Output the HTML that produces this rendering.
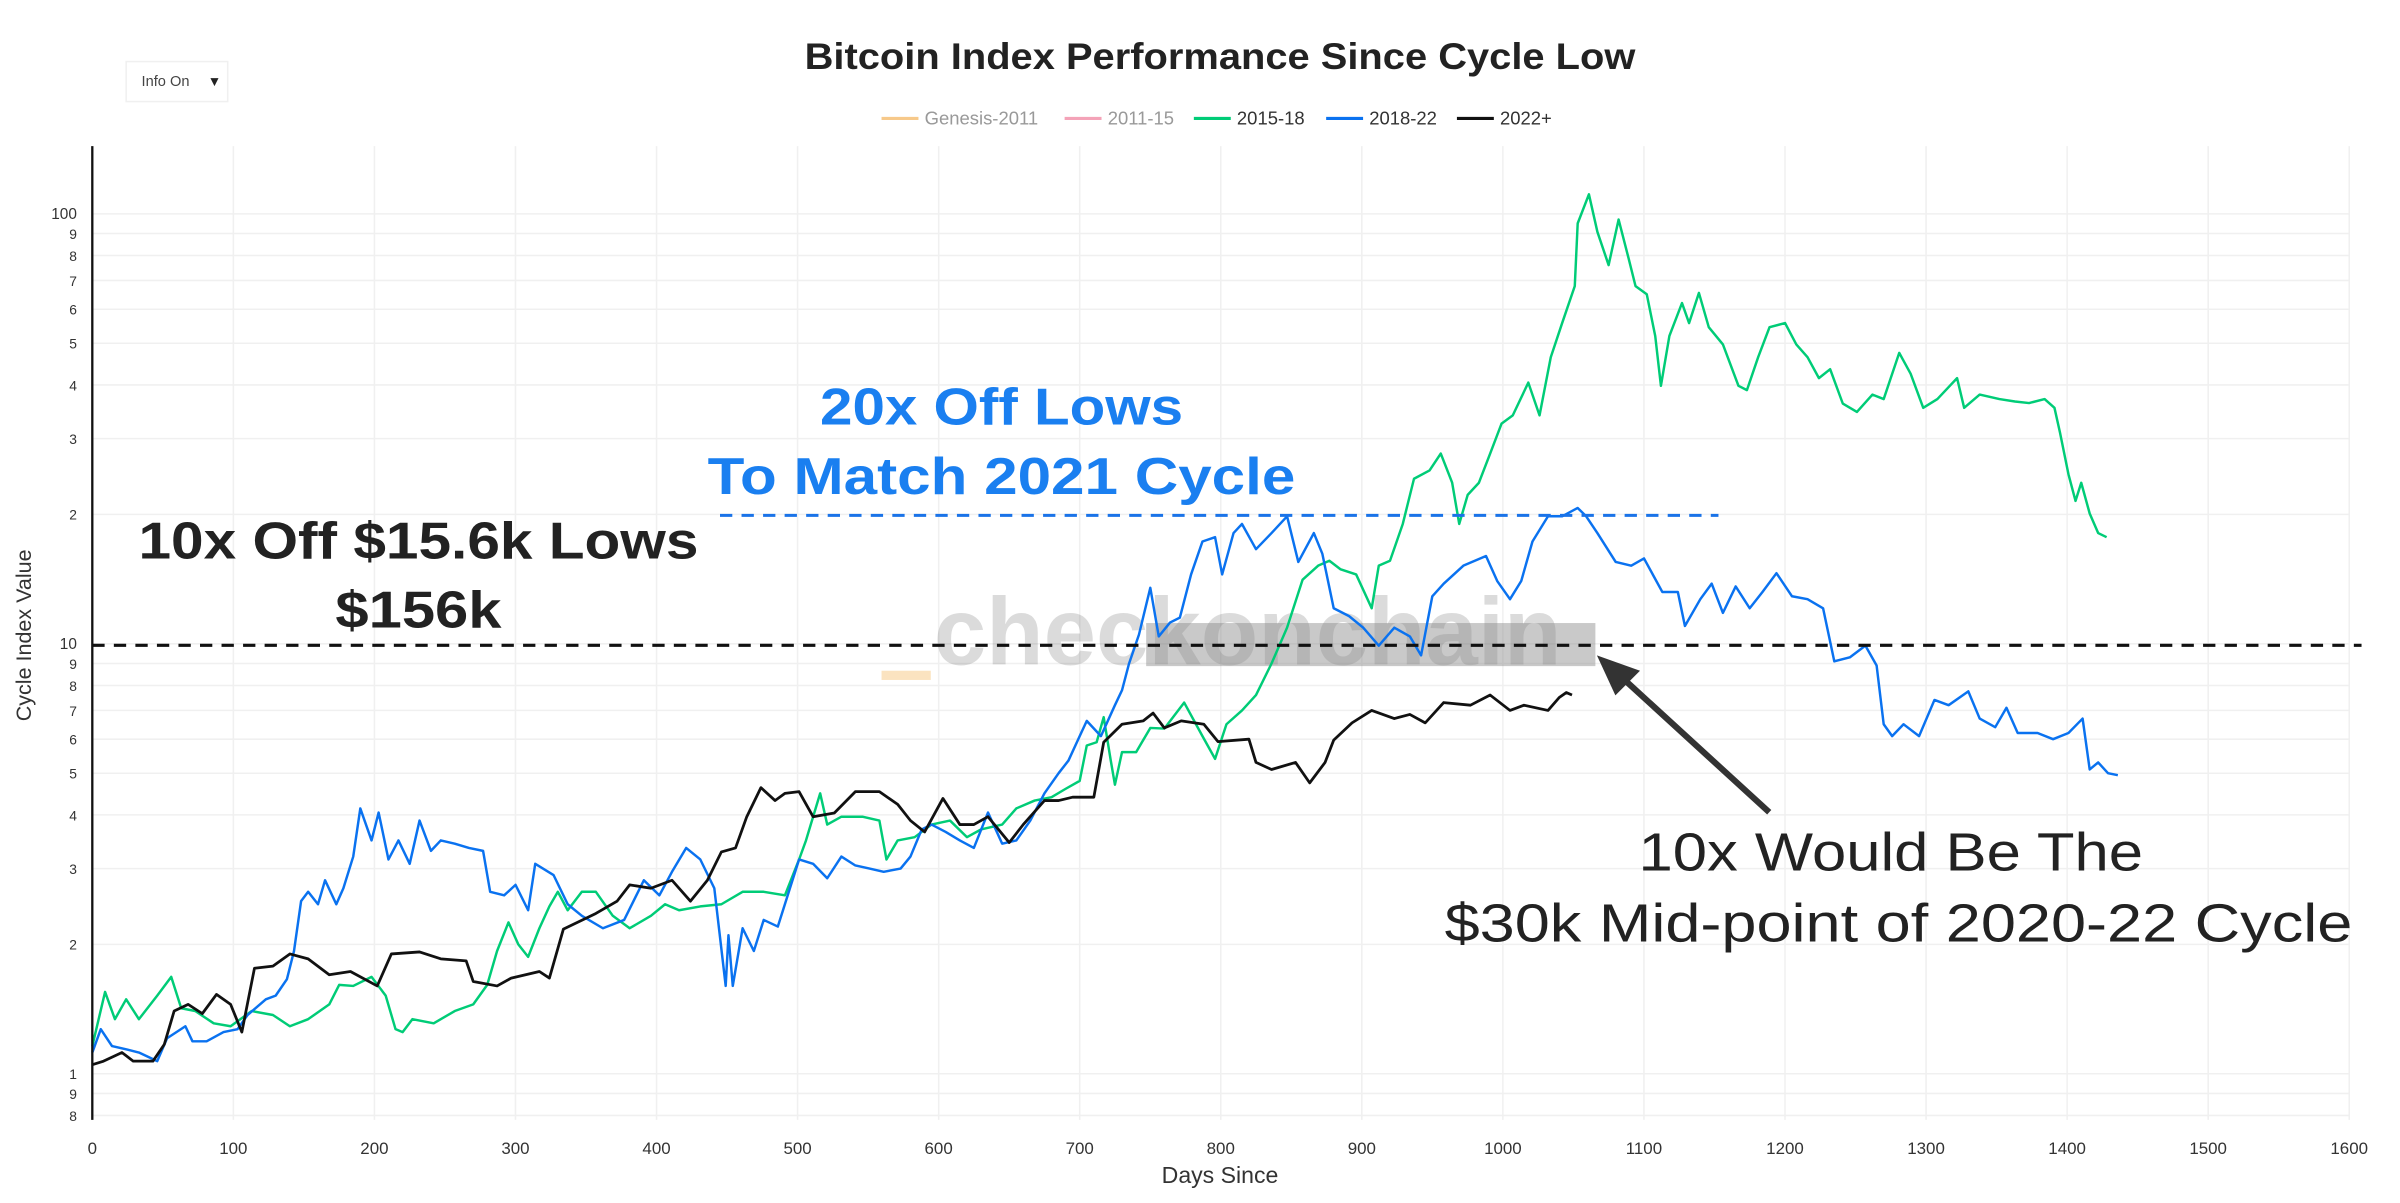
<!DOCTYPE html>
<html><head><meta charset="utf-8"><style>
html,body{margin:0;padding:0;background:#fff;}
svg{display:block;font-family:"Liberation Sans",sans-serif;}
</style></head><body>
<svg id="chart" width="2400" height="1203" viewBox="0 0 1560 782" preserveAspectRatio="none" xmlns="http://www.w3.org/2000/svg">
<rect x="0" y="0" width="1560" height="782" fill="#fff"/>
<g id="grid"></g>
<g id="yticks"></g>
<g id="xticks"></g>
<text x="793" y="45" text-anchor="middle" font-size="24" font-weight="bold" fill="#222" textLength="540" lengthAdjust="spacingAndGlyphs">Bitcoin Index Performance Since Cycle Low</text>
<g>
<rect x="82" y="40" width="66" height="26" fill="#fff" stroke="#f0f0f0"/>
<text x="92" y="56" font-size="9.5" fill="#444">Info On</text>
<text x="135" y="56" font-size="9" fill="#222">▼</text>
</g>
<g id="legend" font-size="12"></g>
<text transform="translate(20,413) rotate(-90)" text-anchor="middle" font-size="14" fill="#333">Cycle Index Value</text>
<text x="793" y="769" text-anchor="middle" font-size="15" fill="#333">Days Since</text>
<text x="607" y="432" font-size="62" font-weight="bold" fill="#000" fill-opacity="0.14" textLength="408" lengthAdjust="spacingAndGlyphs">checkonchain</text>
<rect x="745" y="405" width="292" height="28" fill="#888" fill-opacity="0.45"/>
<rect x="573" y="436" width="32" height="6" fill="#fbe3c0"/>
<g id="series"></g>
<line x1="60" y1="419.5" x2="1535" y2="419.5" stroke="#111" stroke-width="2" stroke-dasharray="8,6"/>
<line x1="468" y1="335" x2="1117" y2="335" stroke="#1a73e8" stroke-width="2" stroke-dasharray="8,6"/>
<line x1="60" y1="95" x2="60" y2="728" stroke="#111" stroke-width="1.5"/>
<text x="651" y="276" text-anchor="middle" font-size="34" font-weight="bold" fill="#1a7ff0" textLength="236" lengthAdjust="spacingAndGlyphs">20x Off Lows</text>
<text x="651" y="321" text-anchor="middle" font-size="34" font-weight="bold" fill="#1a7ff0" textLength="382" lengthAdjust="spacingAndGlyphs">To Match 2021 Cycle</text>
<text x="272" y="363" text-anchor="middle" font-size="34" font-weight="bold" fill="#222" textLength="364" lengthAdjust="spacingAndGlyphs">10x Off $15.6k Lows</text>
<text x="272" y="408" text-anchor="middle" font-size="34" font-weight="bold" fill="#222" textLength="108" lengthAdjust="spacingAndGlyphs">$156k</text>
<g>
<line x1="1150" y1="528" x2="1056" y2="442" stroke="#333" stroke-width="4"/>
<polygon points="1038,426 1066,436 1050,452" fill="#333"/>
</g>
<text x="1229" y="566" text-anchor="middle" font-size="35" fill="#222" textLength="328" lengthAdjust="spacingAndGlyphs">10x Would Be The</text>
<text x="1234" y="612" text-anchor="middle" font-size="35" fill="#222" textLength="590" lengthAdjust="spacingAndGlyphs">$30k Mid-point of 2020-22 Cycle</text>
</svg>
<script>
const xTicks = [0,100,200,300,400,500,600,700,800,900,1000,1100,1200,1300,1400,1500,1600];
const yTickVals = [0.8,0.9,1,2,3,4,5,6,7,8,9,10,20,30,40,50,60,70,80,90,100];
const yTickLabels = ["8","9","1","2","3","4","5","6","7","8","9","10","2","3","4","5","6","7","8","9","100"];
const legendNames = ["Genesis-2011","2011-15","2015-18","2018-22","2022+"];
const legendColors = ["#f7c98a","#f4a3b8","#00cc77","#0a72f0","#111"];
const green1518 = [[0,1.16],[9,1.55],[16,1.34],[24,1.49],[33,1.34],[46,1.52],[56,1.68],[63,1.42],[73,1.4],[86,1.31],[98,1.29],[113,1.4],[128,1.37],[140,1.29],[153,1.34],[168,1.45],[175,1.61],[185,1.6],[198,1.68],[208,1.52],[215,1.27],[220,1.25],[227,1.34],[242,1.31],[257,1.4],[270,1.45],[280,1.61],[287,1.93],[295,2.25],[302,2.0],[309,1.87],[317,2.18],[324,2.45],[330,2.65],[337,2.4],[347,2.65],[357,2.65],[369,2.33],[381,2.18],[396,2.33],[406,2.48],[416,2.4],[431,2.45],[446,2.48],[461,2.65],[476,2.65],[491,2.6],[501,3.15],[506,3.49],[516,4.49],[521,3.8],[531,3.96],[546,3.96],[558,3.88],[563,3.15],[571,3.49],[583,3.55],[595,3.8],[608,3.88],[620,3.55],[630,3.7],[645,3.8],[655,4.14],[668,4.32],[680,4.4],[690,4.6],[700,4.8],[705,5.8],[712,5.9],[717,6.75],[722,5.35],[725,4.7],[730,5.6],[740,5.6],[750,6.37],[760,6.35],[774,7.3],[787,6.1],[796,5.4],[804,6.5],[815,7.0],[825,7.6],[836,9.0],[847,10.9],[858,14.1],[869,15.2],[877,15.6],[885,14.9],[896,14.5],[907,12.1],[912,15.2],[920,15.6],[929,19],[937,24.2],[948,25.3],[956,27.7],[964,23.7],[969,19],[975,22.2],[983,23.7],[991,27.7],[999,32.5],[1007,34],[1018,40.5],[1026,34],[1034,46.4],[1042,55.7],[1051,67.9],[1053,95],[1061,111],[1067,90.8],[1075,76],[1082,97],[1089,79],[1094,67.9],[1102,65],[1108,52],[1112,39.8],[1118,52],[1127,62],[1132,55.7],[1139,65.5],[1146,54.5],[1156,49.7],[1167,39.8],[1173,38.9],[1181,46.4],[1189,54.5],[1200,55.7],[1208,49.7],[1216,46.4],[1224,41.5],[1232,43.5],[1241,36.2],[1251,34.6],[1262,38],[1270,37.1],[1281,47.5],[1289,42.5],[1298,35.4],[1308,37.1],[1322,41.5],[1327,35.4],[1338,38],[1352,37.1],[1363,36.6],[1373,36.3],[1384,37.1],[1391,35.4],[1395,31],[1401,24.8],[1406,21.5],[1410,23.7],[1416,20.1],[1422,18.1],[1428,17.7]];
const blue1822 = [[0,1.12],[6,1.27],[14,1.16],[24,1.14],[33,1.12],[46,1.07],[53,1.21],[66,1.29],[71,1.19],[81,1.19],[93,1.25],[103,1.27],[110,1.37],[123,1.49],[130,1.52],[138,1.66],[143,1.93],[148,2.52],[153,2.65],[160,2.48],[165,2.82],[173,2.48],[178,2.7],[185,3.2],[190,4.14],[198,3.49],[203,4.05],[210,3.15],[217,3.49],[225,3.08],[232,3.88],[240,3.3],[247,3.49],[257,3.43],[267,3.35],[277,3.3],[282,2.65],[292,2.6],[300,2.75],[309,2.4],[314,3.08],[327,2.9],[337,2.48],[347,2.33],[362,2.18],[377,2.28],[391,2.82],[402,2.6],[411,2.95],[421,3.35],[431,3.15],[441,2.7],[449,1.6],[451,2.1],[454,1.6],[461,2.18],[469,1.93],[476,2.28],[486,2.2],[493,2.6],[501,3.15],[511,3.08],[521,2.85],[531,3.2],[541,3.05],[551,3.0],[561,2.95],[573,3.0],[580,3.2],[588,3.7],[595,3.8],[605,3.65],[615,3.49],[625,3.35],[635,4.05],[645,3.43],[655,3.49],[665,3.88],[675,4.49],[685,5.0],[692,5.35],[700,6.1],[705,6.62],[715,6.1],[725,7.2],[730,7.8],[735,9.0],[742,10.5],[750,13.5],[756,10.4],[764,11.2],[771,11.5],[779,14.5],[787,17.3],[796,17.7],[801,14.5],[809,18.1],[815,19],[825,16.6],[836,18.1],[847,19.8],[855,15.5],[866,18.1],[872,16.2],[880,12.1],[891,11.6],[901,10.9],[912,9.9],[923,10.9],[934,10.4],[942,9.4],[950,12.9],[958,13.8],[972,15.2],[988,16.0],[996,14],[1005,12.7],[1013,14],[1021,17.3],[1032,19.8],[1042,19.8],[1053,20.7],[1059,19.8],[1067,18.1],[1080,15.5],[1091,15.2],[1100,15.8],[1113,13.2],[1124,13.2],[1129,11.0],[1140,12.7],[1148,13.8],[1156,11.8],[1165,13.6],[1175,12.1],[1184,13.2],[1194,14.6],[1205,12.9],[1216,12.7],[1227,12.1],[1235,9.1],[1246,9.3],[1257,9.9],[1265,8.9],[1270,6.5],[1276,6.1],[1284,6.5],[1295,6.1],[1306,7.4],[1316,7.2],[1330,7.75],[1338,6.7],[1349,6.4],[1357,7.1],[1365,6.2],[1379,6.2],[1390,6.0],[1401,6.2],[1411,6.7],[1416,5.1],[1422,5.3],[1429,5.0],[1436,4.95]];
const black2022 = [[0,1.05],[8,1.07],[21,1.12],[29,1.07],[43,1.07],[51,1.17],[58,1.4],[68,1.45],[78,1.38],[88,1.53],[98,1.45],[106,1.25],[115,1.76],[128,1.78],[140,1.9],[153,1.85],[168,1.7],[183,1.73],[202,1.6],[212,1.9],[232,1.92],[247,1.85],[265,1.83],[270,1.64],[287,1.6],[297,1.67],[317,1.73],[324,1.67],[334,2.17],[357,2.36],[372,2.52],[381,2.75],[396,2.7],[411,2.82],[424,2.52],[436,2.82],[446,3.28],[456,3.35],[464,3.96],[474,4.63],[484,4.32],[491,4.49],[501,4.53],[511,3.96],[526,4.04],[541,4.53],[558,4.53],[571,4.23],[580,3.88],[590,3.65],[603,4.37],[615,3.8],[625,3.8],[635,3.96],[650,3.45],[660,3.8],[675,4.32],[685,4.32],[695,4.4],[710,4.4],[717,5.9],[730,6.5],[745,6.62],[752,6.9],[760,6.37],[772,6.62],[788,6.5],[798,5.92],[820,6.0],[825,5.3],[836,5.1],[853,5.3],[863,4.75],[874,5.3],[880,5.97],[893,6.55],[907,7.0],[923,6.7],[934,6.85],[945,6.55],[958,7.3],[977,7.2],[991,7.6],[1005,7.0],[1015,7.2],[1032,7.0],[1040,7.5],[1045,7.7],[1049,7.6]];

const NS = "http://www.w3.org/2000/svg";
const X0 = 60, X1 = 1527, DMAX = 1600;
function xScale(d){ return X0 + d * (X1 - X0) / DMAX; }
function yScale(v){ return 698 - 279.5 * Math.log10(v); }
function mk(tag, attrs, parent){ const e = document.createElementNS(NS, tag); for (const k in attrs) e.setAttribute(k, attrs[k]); parent.appendChild(e); return e; }

const grid = document.getElementById('grid');
xTicks.forEach(t => {
  const l = mk('line', {x1: xScale(t), x2: xScale(t), y1: 95, y2: 728, stroke: '#f0f0f0', 'stroke-width': 1}, grid);
  
  
});
yTickVals.forEach(v => {
  const l = mk('line', {x1: 60, x2: 1527, y1: yScale(v), y2: yScale(v), stroke: '#f0f0f0', 'stroke-width': 1}, grid);
  
  
});
const yt = document.getElementById('yticks');
yTickVals.forEach((v, i) => {
  const lab = yTickLabels[i];
  const t = mk('text', {x: 50, y: yScale(v) + 3.5, 'text-anchor': 'end', 'font-size': lab.length > 1 ? 10 : 9, fill: '#333'}, yt);
  t.textContent = lab;
  
  
});
const xt = document.getElementById('xticks');
xTicks.forEach(tv => {
  const t = mk('text', {x: xScale(tv), y: 750, 'text-anchor': 'middle', 'font-size': 11, fill: '#333'}, xt);
  t.textContent = tv;
  
  
});
const lg = document.getElementById('legend');
const lgX = [573, 692, 776, 862, 947];
legendNames.forEach((n, i) => {
  const g = mk('g', {}, lg);
  
  
  mk('line', {x1: lgX[i], x2: lgX[i] + 24, y1: 77, y2: 77, stroke: legendColors[i], 'stroke-width': 2}, g);
  const t = mk('text', {x: lgX[i] + 28, y: 81, fill: i < 2 ? '#999' : '#333', 'font-size': 12}, g);
  t.textContent = n;
});
const sg = document.getElementById('series');
function drawLine(data, color, name, w){
  const d = data.map((p, i) => (i ? 'L' : 'M') + xScale(p[0]).toFixed(1) + ',' + yScale(p[1]).toFixed(1)).join('');
  const p = mk('path', {d: d, fill: 'none', stroke: color, 'stroke-width': w, 'stroke-linejoin': 'round'}, sg);
  
  
}
drawLine(green1518, '#00cc77', 'series-2015-18', 1.6);
drawLine(blue1822, '#0a72f0', 'series-2018-22', 1.6);
drawLine(black2022, '#111', 'series-2022', 1.8);
</script>
</body></html>
